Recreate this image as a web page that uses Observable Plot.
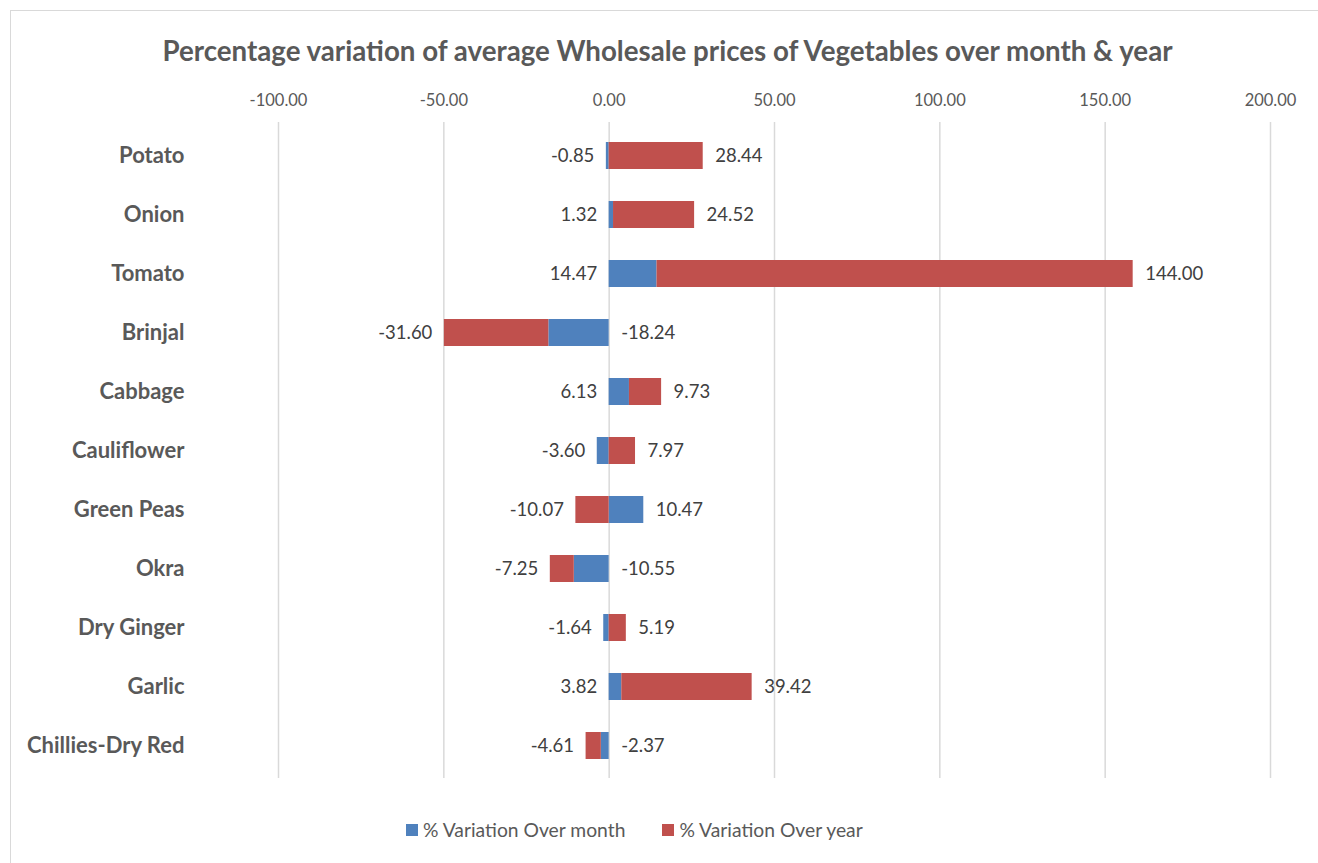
<!DOCTYPE html>
<html><head><meta charset="utf-8">
<script src="https://cdn.jsdelivr.net/npm/d3@7"></script>
<script src="https://cdn.jsdelivr.net/npm/@observablehq/plot@0.6"></script>
<style>
body{margin:0;background:#fff;font-family:Lato,"Open Sans",sans-serif;overflow:hidden;}
#frame{position:absolute;left:10px;top:10px;width:1320px;height:870px;border:1.5px solid #d9d9d9;box-sizing:border-box;}
#title{position:absolute;left:10px;width:1315px;top:34px;text-align:center;font-weight:bold;font-size:27.7px;line-height:34px;color:#595959;white-space:nowrap;}
#chart{position:absolute;left:10px;top:80px;}
#legend{position:absolute;left:406px;top:818px;display:flex;align-items:center;font-size:19.3px;color:#595959;white-space:nowrap;}
#legend .item{display:flex;align-items:center;margin-right:37px;}
#legend .key{width:12px;height:12px;margin-right:5px;}
</style>
</head><body>
<div id="frame"></div>
<div id="title"></div>
<div id="chart"></div>
<div id="legend"></div>
<script>
const chartTitle = "Percentage variation of average Wholesale prices of Vegetables over month & year";
const vegetables = ["Potato","Onion","Tomato","Brinjal","Cabbage","Cauliflower","Green Peas","Okra","Dry Ginger","Garlic","Chillies-Dry Red"];
const monthVar = [-0.85, 1.32, 14.47, -18.24, 6.13, -3.60, 10.47, -10.55, -1.64, 3.82, -2.37];
const yearVar = [28.44, 24.52, 144.00, -31.60, 9.73, 7.97, -10.07, -7.25, 5.19, 39.42, -4.61];
const seriesNames = ["% Variation Over month", "% Variation Over year"];
const seriesColors = ["#4F81BD", "#C0504D"];
const xTicks = [-100, -50, 0, 50, 100, 150, 200];

document.getElementById("title").textContent = chartTitle;

// long-format table for stacking (month first, then year)
const seriesValues = [monthVar, yearVar];
const bars = [];
seriesNames.forEach((s, si) => {
  vegetables.forEach((v, i) => bars.push({veg: v, series: s, value: seriesValues[si][i]}));
});

// label anchors derived from the stacked extents
const labels = [];
vegetables.forEach((v, i) => {
  const vals = [monthVar[i], yearVar[i]];
  const neg = vals.filter(x => x < 0).reduce((a, b) => a + b, 0);
  const pos = vals.filter(x => x > 0).reduce((a, b) => a + b, 0);
  const yearSide = yearVar[i] >= 0 ? "right" : "left";
  const monthSide = yearSide === "right" ? "left" : "right";
  [[monthVar[i], monthSide], [yearVar[i], yearSide]].forEach(([val, side]) => {
    labels.push({veg: v, value: val, side, at: side === "right" ? Math.max(0, pos) : Math.min(0, neg)});
  });
});

const plot = Plot.plot({
  width: 1308,
  height: 700,
  marginLeft: 268,
  marginRight: 48,
  marginTop: 42,
  marginBottom: 2,
  style: {fontFamily: "Lato, 'Open Sans', sans-serif", color: "#595959", background: "transparent"},
  x: {domain: [-100, 200]},
  y: {domain: vegetables, paddingInner: 0.55, paddingOuter: 0.275},
  color: {domain: seriesNames, range: seriesColors},
  marks: [
    Plot.gridX(xTicks, {stroke: "#d9d9d9", strokeOpacity: 1, strokeWidth: 1.5}),
    Plot.axisX({anchor: "top", ticks: xTicks, tickFormat: d => d.toFixed(2), tickSize: 0, tickPadding: 17, fontSize: 16.5, label: null}),
    Plot.axisY({anchor: "left", tickSize: 0, tickPadding: 94, fontSize: 22, fontWeight: "bold", label: null}),
    Plot.barX(bars, Plot.stackX({y: "veg", x: "value", fill: "series"})),
    Plot.text(labels.filter(d => d.side === "left"), {x: "at", y: "veg", text: d => d.value.toFixed(2), textAnchor: "end", dx: -12, fontSize: 18.5, fill: "#404040"}),
    Plot.text(labels.filter(d => d.side === "right"), {x: "at", y: "veg", text: d => d.value.toFixed(2), textAnchor: "start", dx: 12, fontSize: 18.5, fill: "#404040"})
  ]
});
document.getElementById("chart").appendChild(plot);

const legend = document.getElementById("legend");
seriesNames.forEach((s, i) => {
  const item = document.createElement("div");
  item.className = "item";
  const key = document.createElement("div");
  key.className = "key";
  key.style.background = seriesColors[i];
  const txt = document.createElement("span");
  txt.textContent = s;
  item.appendChild(key); item.appendChild(txt);
  legend.appendChild(item);
});
</script>
</body></html>
